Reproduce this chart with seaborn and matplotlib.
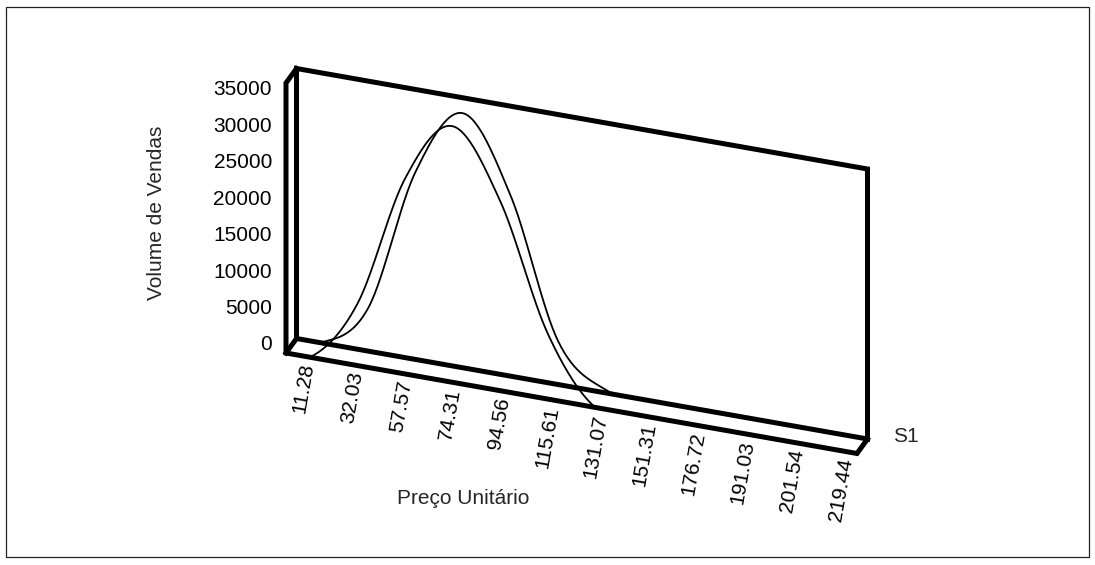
import numpy as np
import matplotlib
matplotlib.use("Agg")
import matplotlib.pyplot as plt
import seaborn as sns
from matplotlib.transforms import Affine2D, IdentityTransform
from matplotlib.patches import Polygon, Rectangle

sns.set_theme(style="white")
plt.rcParams["font.family"] = ["Liberation Sans", "DejaVu Sans"]

# ---- data -------------------------------------------------------------
categories = ["11.28", "32.03", "57.57", "74.31", "94.56", "115.61",
              "131.07", "151.31", "176.72", "191.03", "201.54", "219.44"]
# S1 ribbon: near (front) edge and far (back) edge of the 3-D line
volume_front = [0, 8000, 25300, 33200, 24600, 8500, 0, 0, 0, 0, 0, 0]
volume_back = [0, 5500, 24300, 33000, 23400, 5600, 400, 0, 0, 0, 0, 0]
value_ticks = [0, 5000, 10000, 15000, 20000, 25000, 30000, 35000]
series_name = "S1"
x_title = "Preço Unitário"
y_title = "Volume de Vendas"

FS = 15

# ---- figure and oblique projection -------------------------------------
W, H = 1095, 565
fig = plt.figure(figsize=(W / 100, H / 100), dpi=100)
fig.patch.set_facecolor("white")

n = len(categories)
vmax = value_ticks[-1]
FX, FY = 286, 353          # front-left floor corner (pixels from top-left)
PW, PH = 571, 270          # plane width / height in pixels
ax = fig.add_axes([FX / W, (H - FY) / H, PW / W, PH / H])
ax.set_xlim(0, n)
ax.set_ylim(0, vmax)
ax.axis("off")

SLOPE = 0.176              # floor falls to the right
DEPTH = (10.5, 14.5)       # screen offset from front to back plane


def plane(depth):
    shear = Affine2D(np.array([[1.0, 0.0, 0.0],
                               [-SLOPE, 1.0, SLOPE * FX],
                               [0.0, 0.0, 1.0]]))
    return ax.transData + shear + Affine2D().translate(DEPTH[0] * depth,
                                                       DEPTH[1] * depth)


def pt(x, v, depth):
    return plane(depth).transform((x, v))


def frame(points, lw=3.6, z=3):
    xy = np.array(points)
    ax.plot(xy[:, 0], xy[:, 1], color="black", lw=lw,
            transform=IdentityTransform(), clip_on=False, zorder=z,
            solid_joinstyle="miter", solid_capstyle="projecting")


def smooth(values, steps=30):
    """Cubic Hermite (Catmull-Rom) curve through the category points."""
    y = np.asarray(values, float)
    m = np.empty_like(y)
    m[1:-1] = (y[2:] - y[:-2]) / 2
    m[0] = (y[1] - y[0]) / 2
    m[-1] = (y[-1] - y[-2]) / 2
    xs, ys = [], []
    for i in range(len(y) - 1):
        t = np.linspace(0, 1, steps, endpoint=False)
        h00 = 2 * t**3 - 3 * t**2 + 1
        h10 = t**3 - 2 * t**2 + t
        h01 = -2 * t**3 + 3 * t**2
        h11 = t**3 - t**2
        xs.append(i + 0.5 + t)
        ys.append(h00 * y[i] + h10 * m[i] + h01 * y[i + 1] + h11 * m[i + 1])
    xs.append([n - 0.5])
    ys.append([y[-1]])
    return np.concatenate(xs), np.concatenate(ys)


# back wall and far floor edge
frame([pt(0, 0, 1), pt(0, vmax, 1), pt(n, vmax, 1), pt(n, 0, 1),
       pt(0, 0, 1)], z=2)

# the two edges of the S1 ribbon
for vals, depth in [(volume_back, 1.0), (volume_front, 0.0)]:
    sx, sy = smooth(vals)
    sns.lineplot(x=sx, y=sy, ax=ax, color="black", linewidth=1.3,
                 sort=False, estimator=None, zorder=2.5)
    line = ax.lines[-1]
    tr = plane(depth)
    line.set_transform(tr)
    line.set_clip_box(None)
    clip = Polygon([(-1, 0), (n + 1, 0), (n + 1, 2 * vmax), (-1, 2 * vmax)],
                   closed=True, transform=tr)
    line.set_clip_path(clip)

# floor and left wall front edges
frame([pt(0, vmax, 1), pt(0, vmax, 0), pt(0, 0, 0), pt(n, 0, 0),
       pt(n, 0, 1)], z=4)
frame([pt(0, 0, 0), pt(0, 0, 1)], z=4)

# value axis labels
ytr = Affine2D().scale(1, 36.43 / 5000).translate(272, H - 345)
for v in value_ticks:
    ax.text(0, v, f"{v}", transform=ytr, ha="right", va="center",
            fontsize=FS, color="black")

# category labels, hung below the front floor edge
ctr = Affine2D(np.array([[49.0, 0.0, 307.5],
                         [-8.64, 1.0, H - 363],
                         [0.0, 0.0, 1.0]]))
for i, lab in enumerate(categories):
    ax.text(i, 0, lab, transform=ctr, rotation=80, rotation_mode="anchor",
            ha="right", va="center", fontsize=FS, color="black")

# titles
fig.text(157 / W, 1 - 213 / H, y_title, rotation=90, ha="center",
         va="center", fontsize=FS)
fig.text(463 / W, 1 - 498 / H, x_title, ha="center", va="center",
         fontsize=FS)
fig.text(893 / W, 1 - 437 / H, series_name, ha="left", va="center",
         fontsize=FS)

# chart area border
fig.patches.append(Rectangle((6 / W, 1 - 557 / H), 1083 / W, 550 / H,
                             transform=fig.transFigure, fill=False,
                             edgecolor="#222222", lw=0.9))

fig.savefig("out.png", dpi=100)
